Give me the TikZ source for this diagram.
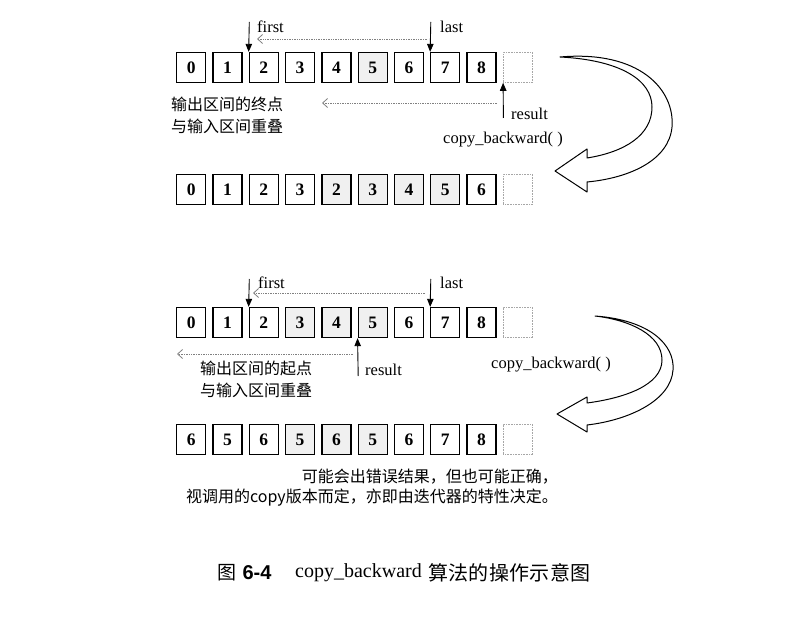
\documentclass[tikz,border=0pt]{standalone}
\usepackage{fontspec}
\setmainfont{Liberation Serif}
\newfontfamily\cjk{Noto Sans CJK SC}
\newfontfamily\capsans{Liberation Sans}
\newfontfamily\digitfont{Liberation Serif Bold}
\usetikzlibrary{arrows.meta}
\tikzset{
  cell/.style={draw, line width=1.3pt, minimum width=29pt, minimum height=30pt, inner sep=0pt,
    font=\digitfont\fontsize{17.5}{17.5}\selectfont},
  emptycell/.style={draw=gray!70, densely dotted, line width=0.6pt, minimum width=29pt, minimum height=30pt, inner sep=0pt},
  lbl/.style={font=\fontsize{16.5}{18}\selectfont, inner sep=0pt},
  cjklbl/.style={font=\cjk\fontsize{16}{18}\selectfont, inner sep=0pt},
  ptr/.style={line width=0.9pt, -{Triangle[length=8pt,width=6.5pt]}},
  flow/.style={gray, densely dotted, line width=0.7pt, -{Straight Barb[length=5pt,width=9pt,line width=0.8pt]}},
  bigarrow/.style={draw, line width=1pt, fill=white, line join=round},
  shade/.style={fill=gray!12},
  plain/.style={fill=white}
}
\begin{document}
\begin{tikzpicture}[x=1pt,y=-1pt]
\useasboundingbox (0,0) rectangle (799,617);

% rows of cells
\foreach \v/\f [count=\i from 0] in {0/plain,1/plain,2/plain,3/plain,4/plain,5/shade,6/plain,7/plain,8/plain}
  \node[cell,\f] (r1-\i) at ({191.2+36.3*\i},67.5) {\v};
\node[emptycell] (r1-9) at ({191.2+36.3*9},67.5) {};

\foreach \v/\f [count=\i from 0] in {0/plain,1/plain,2/plain,3/plain,2/shade,3/shade,4/shade,5/shade,6/plain}
  \node[cell,\f] (r2-\i) at ({191.2+36.3*\i},189.5) {\v};
\node[emptycell] (r2-9) at ({191.2+36.3*9},189.5) {};

\foreach \v/\f [count=\i from 0] in {0/plain,1/plain,2/plain,3/shade,4/shade,5/shade,6/plain,7/plain,8/plain}
  \node[cell,\f] (r3-\i) at ({191.2+36.3*\i},322.5) {\v};
\node[emptycell] (r3-9) at ({191.2+36.3*9},322.5) {};

\foreach \v/\f [count=\i from 0] in {6/plain,5/plain,6/plain,5/shade,6/shade,5/shade,6/plain,7/plain,8/plain}
  \node[cell,\f] (r4-\i) at ({191.2+36.3*\i},439.5) {\v};
\node[emptycell] (r4-9) at ({191.2+36.3*9},439.5) {};

% ---------- upper diagram ----------
\coordinate (f1top) at (249.3,22);
\coordinate (l1top) at (430.8,22);
\draw[ptr] (f1top) -- (r1-2.north west);
\draw[ptr] (l1top) -- (r1-7.north west);
\node[lbl, anchor=west] (first1) at (257,27) {first};
\node[lbl, anchor=west] (last1) at (440,27) {last};
\coordinate (d1a) at (427,39);
\coordinate (d1b) at (257,39);
\draw[flow] (d1a) -- (d1b);

\coordinate (res1bot) at (503.4,118);
\draw[ptr] (res1bot) -- (r1-9.south west);
\node[lbl, anchor=west] (result1) at (511,114) {result};
\node[lbl, anchor=east] (cb1) at (563,140) {copy\_backward( )};
\coordinate (d2a) at (497,103);
\coordinate (d2b) at (322,103);
\draw[flow] (d2a) -- (d2b);
\node[cjklbl, anchor=west] (t1a) at (171,104) {输出区间的终点};
\node[cjklbl, anchor=west] (t1b) at (171,126) {与输入区间重叠};

\path[bigarrow] (560,57) .. controls (640,50) and (675,90) .. (672,127)
  .. controls (669,160) and (630,178) .. (587,182)
  -- (587,192) -- (555,171) -- (587,149) -- (587,158)
  .. controls (625,152) and (652,135) .. (652,107)
  .. controls (652,80) and (620,60) .. (560,57) -- cycle;

% ---------- lower diagram ----------
\coordinate (f3top) at (249.3,279);
\coordinate (l3top) at (430.8,279);
\draw[ptr] (f3top) -- (r3-2.north west);
\draw[ptr] (l3top) -- (r3-7.north west);
\node[lbl, anchor=west] (first3) at (258,283) {first};
\node[lbl, anchor=west] (last3) at (440,283) {last};
\coordinate (d3a) at (425,293);
\coordinate (d3b) at (253,293);
\draw[flow] (d3a) -- (d3b);

\coordinate (res3bot) at (358.2,376);
\draw[ptr] (res3bot) -- (r3-5.south west);
\node[lbl, anchor=west] (result3) at (365,370) {result};
\coordinate (d4a) at (353,354);
\coordinate (d4b) at (177,354);
\draw[flow] (d4a) -- (d4b);
\node[cjklbl, anchor=west] (t3a) at (200,368) {输出区间的起点};
\node[cjklbl, anchor=west] (t3b) at (200,390) {与输入区间重叠};
\node[lbl, anchor=west] (cb3) at (491,365) {copy\_backward( )};

\path[bigarrow] (595,316) .. controls (650,320) and (675,345) .. (673,370)
  .. controls (671,400) and (630,420) .. (587,425)
  -- (587,432) -- (557,414) -- (587,397) -- (587,403)
  .. controls (625,398) and (662,385) .. (662,360)
  .. controls (662,335) and (630,320) .. (595,316) -- cycle;

\node[cjklbl, anchor=east] (n1) at (558,477) {可能会出错误结果，但也可能正确，};
\node[cjklbl, anchor=east] (n2) at (558,498) {视调用的copy版本而定，亦即由迭代器的特性决定。};

% ---------- caption ----------
\node[font=\cjk\fontsize{19}{20}\selectfont, inner sep=0pt] (capa) at (227,573) {图};
\node[font=\capsans\bfseries\fontsize{20}{20}\selectfont, inner sep=0pt] (capb) at (257,573) {6-4};
\node[font=\fontsize{20}{20}\selectfont, inner sep=0pt, anchor=west] (capc) at (295,573) {copy\_backward};
\node[font=\cjk\fontsize{20}{20}\selectfont, inner sep=0pt, anchor=west] (capd) at (428,573)
  {算\hspace{0.3pt}法\hspace{0.3pt}的\hspace{0.3pt}操\hspace{0.3pt}作\hspace{0.3pt}示\hspace{0.3pt}意\hspace{0.3pt}图};
\end{tikzpicture}
\end{document}
